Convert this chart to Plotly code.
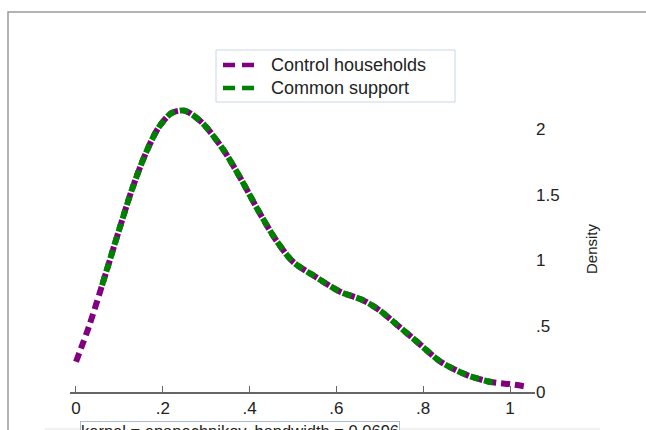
import plotly.graph_objects as go

# Kernel density of propensity score, control households (full range)
control_x = [0.0, 0.03, 0.06, 0.10, 0.13, 0.16, 0.19, 0.22, 0.25, 0.29, 0.34, 0.38,
             0.42, 0.46, 0.50, 0.55, 0.61, 0.66, 0.70, 0.74, 0.79, 0.84, 0.90, 0.95,
             0.97, 1.00, 1.04]
control_y = [0.23, 0.50, 0.81, 1.24, 1.55, 1.81, 2.01, 2.12, 2.14, 2.05, 1.84, 1.62,
             1.38, 1.16, 0.99, 0.88, 0.76, 0.70, 0.62, 0.51, 0.37, 0.23, 0.13, 0.08,
             0.07, 0.06, 0.04]

# Common support region
support_x = [0.06, 0.10, 0.13, 0.16, 0.19, 0.22, 0.25, 0.29, 0.34, 0.38, 0.42, 0.46,
             0.50, 0.55, 0.61, 0.66, 0.70, 0.74, 0.79, 0.84, 0.90, 0.95, 0.97]
support_y = [0.81, 1.24, 1.55, 1.81, 2.01, 2.12, 2.14, 2.05, 1.84, 1.62, 1.38, 1.16,
             0.99, 0.88, 0.76, 0.70, 0.62, 0.51, 0.37, 0.23, 0.13, 0.08, 0.07]

x_ticks = [0, 0.2, 0.4, 0.6, 0.8, 1]
x_tick_labels = ["0", ".2", ".4", ".6", ".8", "1"]
y_ticks = [0, 0.5, 1, 1.5, 2]
y_tick_labels = ["0", ".5", "1", "1.5", "2"]

series_names = ["Control households", "Common support"]
series_colors = ["#800080", "#008000"]
note_text = "kernel = epanechnikov, bandwidth = 0.0696"

FONT = "Liberation Sans, Arial, sans-serif"

fig = go.Figure()
fig.add_trace(go.Scatter(
    x=control_x, y=control_y, mode="lines", name=series_names[0], showlegend=False,
    line=dict(color=series_colors[0], width=6, dash="9px,5px", shape="spline", smoothing=0.8),
))
fig.add_trace(go.Scatter(
    x=support_x, y=support_y, mode="lines", name=series_names[1], showlegend=False,
    line=dict(color=series_colors[1], width=6, dash="9px,5px", shape="spline", smoothing=0.8),
))

W, H = 646, 430
L, R, T, B = 70, 111, 106, 38
pw = W - L - R
ph = H - T - B
Y_PER_UNIT = 131.5

def px_x(px):
    return (px - L) / pw

def px_y(py):
    return (H - B - py) / ph

shapes = [
    dict(type="rect", xref="paper", yref="paper",
         x0=px_x(8), x1=px_x(660), y0=px_y(445), y1=px_y(12),
         line=dict(color="#9a9a9a", width=1.5), layer="below"),
    dict(type="line", xref="paper", yref="paper",
         x0=px_x(45), x1=px_x(600), y0=px_y(429), y1=px_y(429),
         line=dict(color="#e4e4e4", width=1), layer="below"),
    # legend box
    dict(type="rect", xref="paper", yref="paper",
         x0=px_x(216), x1=px_x(455), y0=px_y(102), y1=px_y(50),
         line=dict(color="#c9d6e3", width=1), fillcolor="white", layer="above"),
]
annotations = [dict(
    text=note_text, xref="paper", yref="paper",
    x=px_x(80), y=px_y(421), xanchor="left", yanchor="top",
    showarrow=False, font=dict(size=16.5, family=FONT, color="#222"),
    bordercolor="#a9bccf", borderwidth=1, borderpad=0, bgcolor="white",
)]
legend_rows_y = [65, 88]
for name, color, ry in zip(series_names, series_colors, legend_rows_y):
    shapes.append(dict(
        type="line", xref="paper", yref="paper",
        x0=px_x(223), x1=px_x(254), y0=px_y(ry), y1=px_y(ry),
        line=dict(color=color, width=4.5, dash="12px,7px"), layer="above",
    ))
    annotations.append(dict(
        text=name, xref="paper", yref="paper",
        x=px_x(269), y=px_y(ry), xanchor="left", yanchor="middle",
        showarrow=False, font=dict(size=18, family=FONT, color="#222"),
    ))

fig.update_layout(
    width=W, height=H,
    margin=dict(l=L, r=R, t=T, b=B, pad=0),
    paper_bgcolor="white", plot_bgcolor="white",
    font=dict(family=FONT, color="#222", size=16),
    showlegend=False,
    xaxis=dict(
        range=[-0.0138, 1.0576], tickvals=x_ticks, ticktext=x_tick_labels,
        showgrid=False, zeroline=False, showline=True, linecolor="#666", linewidth=1.5,
        ticks="inside", ticklen=6, tickcolor="#666", tickwidth=1.2,
        tickfont=dict(size=17, family=FONT, color="#222"),
    ),
    yaxis=dict(
        range=[0, ph / Y_PER_UNIT], side="right", tickvals=y_ticks, ticktext=y_tick_labels,
        showgrid=False, zeroline=False, showline=False, ticks="",
        tickfont=dict(size=17, family=FONT, color="#222"),
        title=dict(text="Density", standoff=27, font=dict(size=15, family=FONT, color="#222")),
    ),
    annotations=annotations,
    shapes=shapes,
)

fig.write_html(
    "out.html",
    config={"displayModeBar": False},
    post_script="document.body.style.margin='0';document.body.style.padding='0';",
)
